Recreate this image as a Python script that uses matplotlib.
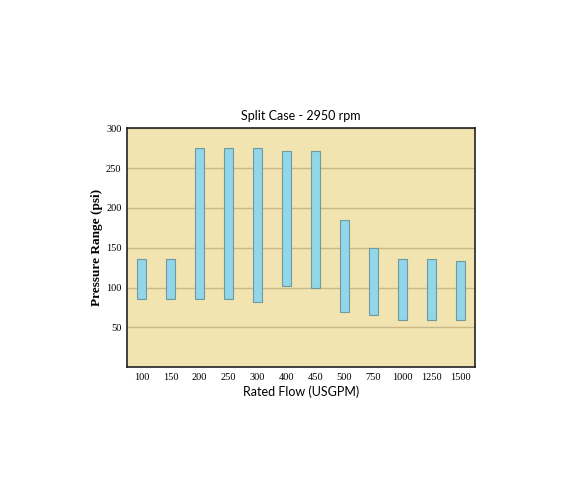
import numpy as np
import matplotlib.pyplot as plt

flows = ['100', '150', '200', '250', '300', '400', '450', '500', '750', '1000', '1250', '1500']
low_psi = [85, 85, 85, 85, 82, 102, 100, 69, 65, 59, 59, 59]
high_psi = [136, 136, 275, 275, 275, 271, 271, 185, 150, 136, 136, 133]

fig = plt.figure(figsize=(5.75, 4.8), dpi=100)
ax = fig.add_axes([0.221, 0.235, 0.605, 0.498])
ax.set_facecolor('#F1E4B0')

x = np.arange(len(flows))
heights = np.array(high_psi) - np.array(low_psi)
ax.bar(x, heights, bottom=low_psi, width=0.3, color='#92D6EA',
       edgecolor='#6E9AA0', linewidth=0.8, zorder=3)

ax.set_xlim(-0.5, len(flows) - 0.5)
ax.set_ylim(0, 300)
ax.set_yticks([50, 100, 150, 200, 250, 300])
ax.set_xticks(x)
ax.set_xticklabels(flows)
ax.yaxis.grid(True, color='#C9B888', linewidth=1.0, zorder=0)
ax.tick_params(length=0, labelsize=7.5, pad=4)
for lab in ax.get_xticklabels() + ax.get_yticklabels():
    lab.set_family('Liberation Serif')

for s in ax.spines.values():
    s.set_color('#222222')
    s.set_linewidth(1.2)

ax.set_title('Split Case - 2950 rpm', fontsize=9, family='Lato', pad=6)
ax.set_xlabel('Rated Flow (USGPM)', fontsize=9, family='Lato', labelpad=3)
ax.set_ylabel('Pressure Range (psi)', fontsize=9.5, family='Liberation Serif',
              fontweight='bold', labelpad=2)

plt.savefig('out.png', dpi=100)
